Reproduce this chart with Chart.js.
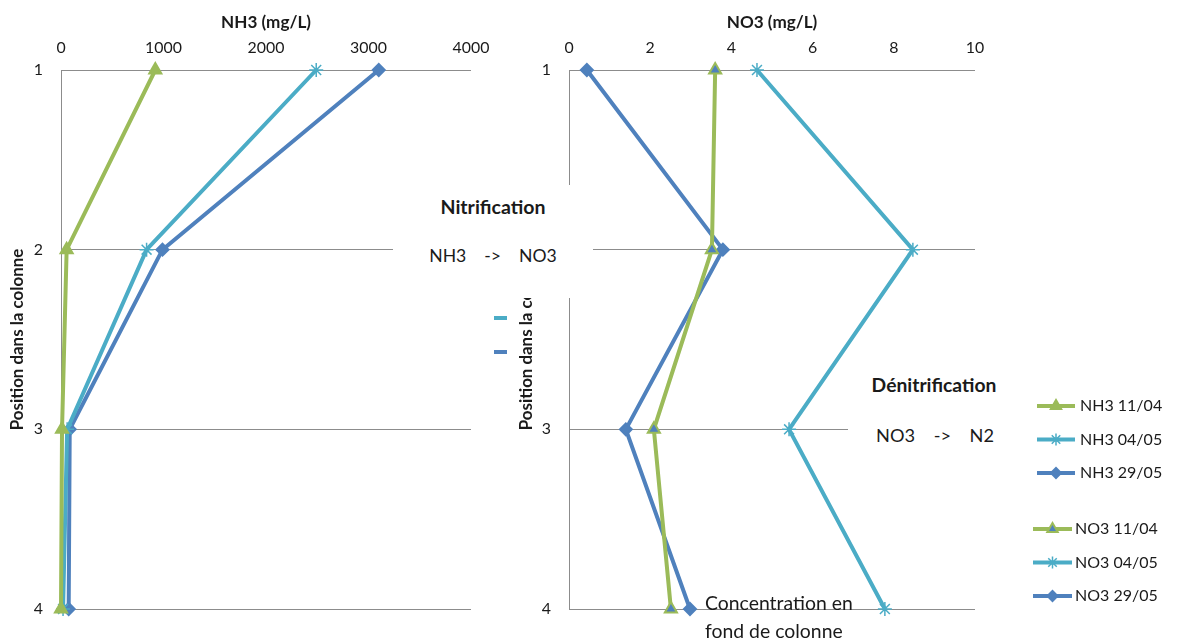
<!DOCTYPE html>
<html>
<head>
<meta charset="utf-8">
<script src="https://cdn.jsdelivr.net/npm/chart.js@4/dist/chart.umd.min.js"></script>
<style>
html,body{margin:0;padding:0;background:#fff;}
#wrap{position:relative;width:1181px;height:640px;overflow:hidden;font-family:Lato,"Liberation Sans",sans-serif;color:#1a1a1a;}
canvas{position:absolute;left:0;top:0;}
.box{position:absolute;background:#fff;}
.t{position:absolute;white-space:pre;transform:translate(-50%,-50%);line-height:1;}
.b{font-weight:bold;}
.frag{position:absolute;height:4px;}
</style>
</head>
<body>
<div id="wrap">
  <canvas id="c1" width="1181" height="640"></canvas>
  <canvas id="c2" width="1181" height="640"></canvas>
  <div class="frag" style="left:494px;top:316px;width:13px;background:#4BACC6"></div>
  <div class="frag" style="left:494px;top:350px;width:13px;background:#4F81BD"></div>
  <div class="box" style="left:393px;top:185px;width:200px;height:113px;"></div>
  <div class="t b" id="a1" style="left:493px;top:207px;">Nitrification</div>
  <div class="t" id="a2" style="left:493px;top:256px;">NH3    -&gt;    NO3</div>
  <div class="box" style="left:848px;top:365px;width:172px;height:90px;"></div>
  <div class="t b" id="a3" style="left:934px;top:385px;">Dénitrification</div>
  <div class="t" id="a4" style="left:935px;top:435px;">NO3    -&gt;    N2</div>
  <div id="a5" style="position:absolute;left:705px;top:589px;line-height:28px;">Concentration en<br>fond de colonne</div>
</div>
<script>
// ---- data ----
const positions = [1, 2, 3, 4];
const nh3Ticks = [0, 1000, 2000, 3000, 4000];
const no3Ticks = [0, 2, 4, 6, 8, 10];
const dates = ['11/04', '04/05', '29/05'];

const nh3_1104 = [920, 55, 10, 0];
const nh3_0405 = [2490, 835, 60, 20];
const nh3_2905 = [3100, 990, 85, 75];

const no3_1104 = [3.60, 3.52, 2.09, 2.51];
const no3_0405 = [4.63, 8.47, 5.42, 7.78];
const no3_2905 = [0.44, 3.79, 1.40, 2.98];

// ---- styles ----
const GREEN = '#9BBB59', TEAL = '#4BACC6', BLUE = '#4F81BD';
const GRID = '#8c8c8c', TXT = '#1a1a1a';
const FONT = 'Lato';

// font sizes fitted to the text widths seen in the reference
const mctx = document.createElement('canvas').getContext('2d');
function fit(text, weight, w) {
  mctx.font = weight + ' 100px ' + FONT;
  return Math.round(1000 * w / mctx.measureText(text).width) / 10;
}
const FS_TICK = fit('1000', 'normal', 37);
const FS_XTITLE = fit('NH3 (mg/L)', 'bold', 90);
const FS_YTITLE = fit('Position dans la colonne', 'bold', 182);
const FS_LEG = fit('NH3 11/04', 'normal', 82);
document.getElementById('a1').style.fontSize = fit('Nitrification', 'bold', 105) + 'px';
document.getElementById('a2').style.fontSize = fit('NH3', 'normal', 37) + 'px';
document.getElementById('a3').style.fontSize = fit('Dénitrification', 'bold', 125) + 'px';
document.getElementById('a4').style.fontSize = fit('NO3', 'normal', 39) + 'px';
document.getElementById('a5').style.fontSize = fit('Concentration en', 'normal', 148) + 'px';

function pts(vals) { return vals.map((v, i) => ({ x: v, y: positions[i] })); }

const styles = [
  { color: GREEN, pointStyle: 'triangle', radius: 7, fill: GREEN, bw: 2 },
  { color: TEAL, pointStyle: 'star', radius: 7, fill: TEAL, bw: 1.5 },
  { color: BLUE, pointStyle: 'rectRot', radius: 6, fill: BLUE, bw: 2 }
];
const no3Styles = [
  { color: GREEN, pointStyle: 'triangle', radius: 7, fill: BLUE, bw: 2 },
  styles[1], styles[2]
];

function ds(label, vals, st) {
  return {
    label: label, data: pts(vals), borderColor: st.color, backgroundColor: st.fill,
    borderWidth: 4, tension: 0, clip: false,
    pointStyle: st.pointStyle, pointRadius: st.radius,
    pointBackgroundColor: st.fill, pointBorderColor: st.color, pointBorderWidth: st.bw,
    pointHoverRadius: st.radius
  };
}

function scales(ticks, xTitle, yTitleCenter, yWidth) {
  return {
    x: {
      type: 'linear', position: 'top',
      min: ticks[0], max: ticks[ticks.length - 1],
      ticks: { stepSize: ticks[1] - ticks[0], padding: 70 - 48 - FS_TICK * 0.6, color: TXT,
               font: { family: FONT, size: FS_TICK }, callback: v => String(v) },
      grid: { display: false, drawTicks: false },
      border: { display: false },
      title: { display: true, text: xTitle, color: TXT, font: { family: FONT, size: FS_XTITLE, weight: 'bold' },
               padding: { top: 22 - FS_XTITLE * 0.6, bottom: 0 } },
      afterFit(s) { s.height = 70; }
    },
    y: {
      type: 'linear', reverse: true, min: positions[0], max: positions[positions.length - 1],
      ticks: { stepSize: 1, padding: 18, color: TXT, font: { family: FONT, size: FS_TICK }, callback: v => String(v) },
      grid: { color: GRID, lineWidth: 1, drawTicks: false },
      border: { display: true, color: GRID, width: 1 },
      title: { display: true, text: 'Position dans la colonne', color: TXT, font: { family: FONT, size: FS_YTITLE, weight: 'bold' },
               padding: { top: yTitleCenter - FS_YTITLE * 0.6, bottom: 0 } },
      afterFit(s) { s.width = yWidth; }
    }
  };
}

const common = {
  responsive: false, animation: false, events: [],
  plugins: { legend: { display: false }, tooltip: { enabled: false } }
};

new Chart(document.getElementById('c1'), {
  type: 'line',
  data: { datasets: [
    ds('NH3 ' + dates[0], nh3_1104, styles[0]),
    ds('NH3 ' + dates[1], nh3_0405, styles[1]),
    ds('NH3 ' + dates[2], nh3_2905, styles[2])
  ] },
  options: Object.assign({}, common, {
    layout: { padding: { left: 0, top: 0, right: 710, bottom: 31 } },
    scales: scales(nh3Ticks, 'NH3 (mg/L)', 18, 61)
  })
});

const legendPlugin = {
  id: 'sideLegend',
  afterDraw(chart) {
    const ctx = chart.ctx;
    const groups = [
      { prefix: 'NH3 ', st: styles, x1: 1037, x2: 1075, tx: 1080, y0: 406 },
      { prefix: 'NO3 ', st: no3Styles, x1: 1033, x2: 1072, tx: 1075, y0: 529 }
    ];
    ctx.save();
    groups.forEach(g => {
      dates.forEach((d, i) => {
        const y = g.y0 + i * 33.5;
        const st = g.st[i];
        ctx.strokeStyle = st.color; ctx.lineWidth = 4;
        ctx.beginPath(); ctx.moveTo(g.x1, y); ctx.lineTo(g.x2, y); ctx.stroke();
        ctx.fillStyle = st.fill; ctx.strokeStyle = st.color; ctx.lineWidth = st.bw;
        if (Chart.helpers && Chart.helpers.drawPoint) {
          Chart.helpers.drawPoint(ctx, { pointStyle: st.pointStyle, radius: st.radius - 1, rotation: 0, borderWidth: st.bw }, (g.x1 + g.x2) / 2, y);
        }
        ctx.fillStyle = TXT; ctx.font = FS_LEG + 'px ' + FONT; ctx.textBaseline = 'middle'; ctx.textAlign = 'left';
        ctx.fillText(g.prefix + d, g.tx, y);
      });
    });
    ctx.restore();
  }
};

new Chart(document.getElementById('c2'), {
  type: 'line',
  data: { datasets: [
    ds('NO3 ' + dates[0], no3_1104, no3Styles[0]),
    ds('NO3 ' + dates[1], no3_0405, no3Styles[1]),
    ds('NO3 ' + dates[2], no3_2905, no3Styles[2])
  ] },
  options: Object.assign({}, common, {
    layout: { padding: { left: 480, top: 0, right: 206, bottom: 31 } },
    scales: scales(no3Ticks, 'NO3 (mg/L)', 47, 89)
  }),
  plugins: [legendPlugin]
});
</script>
</body>
</html>
